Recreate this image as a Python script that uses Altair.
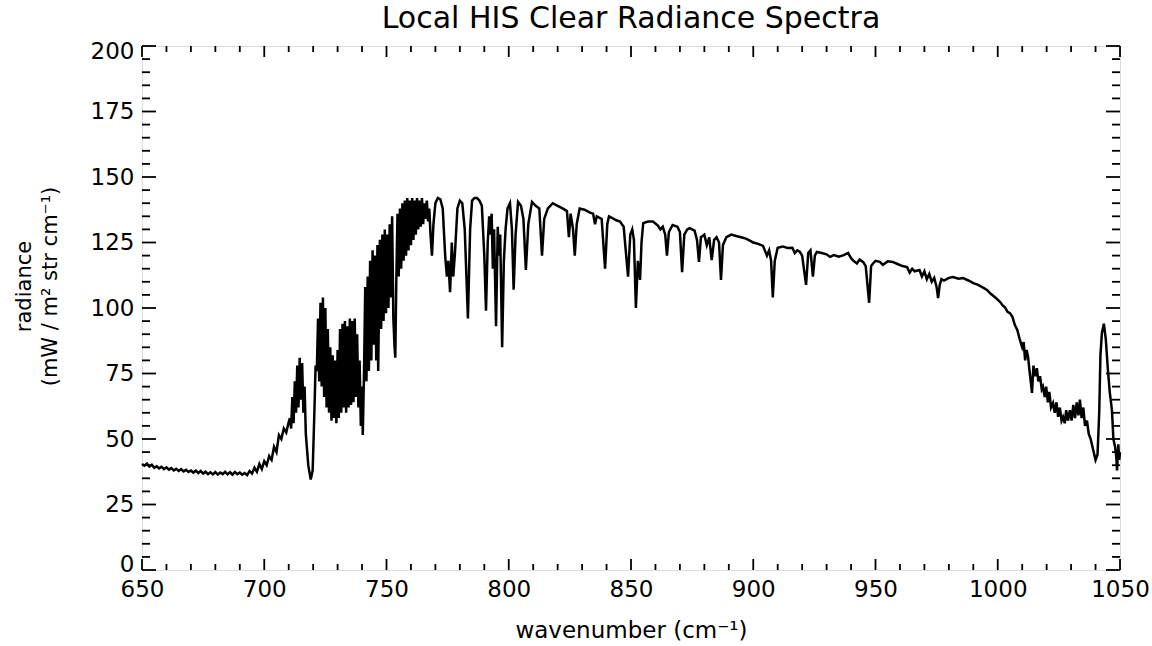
import altair as alt
import pandas as pd

# ---- spectrum (wavenumber cm-1, radiance) ----
WN = [650, 651, 652, 653, 654, 655, 656, 657, 658, 659, 660, 661, 662, 663, 664, 665, 666, 667, 668, 669,
      670, 671, 672, 673, 674, 675, 676, 677, 678, 679, 680, 681, 682, 683, 684, 685, 686, 687, 688, 689,
      690, 691, 692, 693, 694, 695, 696, 697, 698, 699, 700, 701, 702, 703, 704, 705, 706, 707, 708, 709, 710,
      710.5, 711, 711.5, 712, 712.5, 713, 713.5, 714, 714.5, 715, 715.5, 716, 716.5, 717, 718, 719, 719.8,
      720.5, 721, 721.5, 722, 722.5, 723, 723.5, 724, 724.5, 725, 725.5, 726, 726.5, 727, 727.5, 728, 728.5,
      729, 729.5, 730, 730.5, 731, 731.5, 732, 732.5, 733, 733.5, 734, 734.5, 735, 735.5, 736, 736.5, 737,
      737.5, 738, 738.5, 739, 739.5, 740, 740.3, 740.8, 741.3, 741.8, 742.3, 742.8, 743.3, 743.8, 744.3,
      744.8, 745.3, 745.8, 746.3, 746.6, 747.3, 747.8, 748.3, 748.8, 749.3, 749.8, 750.3, 750.8, 751.3,
      751.8, 752.3, 752.8, 753.3, 753.6, 754, 754.5, 755, 755.5, 756, 756.5, 757, 757.5, 758, 758.5, 759,
      759.5, 760, 760.5, 761, 761.5, 762, 762.5, 763, 763.5, 764, 764.5, 765, 765.5, 766, 766.5, 767, 767.5,
      768, 768.6, 769.2, 770, 771, 772, 773, 774, 774.7, 775.3, 776, 776.7, 777.3, 778, 779, 780, 781, 782,
      783.3, 784.2, 785, 786, 787, 788, 789, 790, 790.7, 791.4, 792, 792.5, 793, 793.5, 794, 794.8, 795.5,
      796, 796.5, 797.3, 798, 798.7, 799.5, 800.5, 801.3, 802, 802.8, 803.8, 805, 806, 807, 808, 809.5, 811,
      812.5, 813.6, 814.5, 816, 818, 820, 822, 823.8, 824.6, 825.3, 826.3, 827, 827.8, 829, 831, 833, 834.5,
      835.3, 836, 838, 839.4, 840.3, 841, 842, 844, 845.5, 847, 848.8, 849.7, 850.5, 851.2, 852, 852.8,
      853.7, 854.3, 855, 857, 859, 861, 862, 863, 864, 864.7, 865.5, 867, 869, 870, 870.9, 871.8, 873, 874,
      876, 877, 877.8, 878.6, 880, 881, 882, 883, 884, 885, 886, 886.8, 887.6, 889, 891, 893, 895, 897, 899,
      900, 902, 904, 905.6, 906.5, 907.3, 908, 908.8, 910, 912, 914, 916, 917, 918, 919, 920, 921.6, 922.5,
      923.4, 924.4, 925.2, 926, 928, 930, 931.4, 933, 935, 937, 938.8, 940, 941, 942.4, 943.5, 945, 946,
      947.4, 948.2, 949, 950, 951.8, 953, 955, 957, 959, 961, 962.9, 964, 965, 966, 968, 969, 970, 971, 972,
      973, 974, 975, 975.6, 976.3, 977, 978, 980, 981.7, 984, 985.8, 988, 990, 992, 994, 995.6, 997, 999,
      1001, 1002, 1003, 1004, 1005, 1006, 1007, 1008, 1009, 1010, 1010.6, 1011.2, 1011.8, 1012.4, 1013,
      1013.5, 1014, 1014.6, 1015.2, 1016, 1016.6, 1017.3, 1018, 1018.5, 1019.2, 1019.8, 1020.5, 1021.1,
      1021.8, 1022.6, 1023.3, 1024, 1024.7, 1025.4, 1026.1, 1026.7, 1027.4, 1028, 1028.7, 1029.5, 1030.2,
      1030.9, 1031.6, 1032.3, 1033, 1033.6, 1034.3, 1035, 1035.7, 1036.5, 1037.2, 1038, 1039, 1040, 1040.8,
      1041.5, 1042, 1042.6, 1043.4, 1044.2, 1045, 1045.8, 1046.7, 1047.3, 1048, 1048.5, 1048.8, 1049.3,
      1049.7, 1050]

RAD = [40.5, 39.8, 40.6, 39.5, 40.2, 39.0, 39.6, 38.8, 39.4, 38.5, 39.2, 38.3, 38.9, 38.0, 38.6, 37.8, 38.5, 37.6, 38.2, 37.4,
       38.0, 37.2, 37.9, 37.0, 37.8, 36.8, 37.5, 36.6, 37.3, 36.5, 37.4, 36.4, 37.2, 36.6, 37.5, 36.5, 37.3, 36.4, 37.4, 36.6,
       37.2, 36.4, 37.0, 36.2, 37.8, 36.8, 39.0, 37.5, 40.5, 38.5, 41.5, 40.0, 43.5, 42.0, 47.0, 45.0, 51.5, 50.0, 54.0, 52.5, 56.5,
       58, 54, 66, 56, 72, 60, 78, 62, 81, 65, 79, 60, 70, 52, 40, 34.5, 38,
       60, 78, 76, 96, 72, 102, 70, 104, 66, 100, 62, 92, 60, 85, 57, 82, 58,
       80, 56, 84, 58, 92, 60, 94, 62, 95, 60, 93, 62, 96, 63, 95, 64, 96,
       66, 90, 62, 80, 55, 70, 51.5, 75, 108, 72, 112, 76, 118, 80, 122,
       86, 120, 80, 124, 76, 126, 92, 128, 95, 130, 98, 128, 100, 132,
       104, 135, 96, 85, 81, 110, 136, 112, 138, 115, 140, 118, 141, 120, 142, 122,
       141, 124, 142, 126, 141, 128, 142, 130, 141, 131, 142, 132, 140, 134, 141, 133, 138,
       128, 120, 132, 140, 142, 141.5, 138, 120, 112, 118, 106, 125, 112, 121, 138, 141, 140, 130,
       96, 130, 141, 142, 142, 141, 139, 120, 99, 125, 135, 128, 136, 115, 130, 93, 131,
       120, 128, 85, 118, 130, 138, 140, 130, 107, 128, 140.5, 139, 134, 114.5, 132, 140.5, 139,
       138, 120, 134, 138, 140, 139, 138, 137, 127, 136, 130, 120, 132, 138, 137.5, 136.5, 136,
       132, 135, 134, 115, 132, 135, 134.5, 133.5, 133, 131, 112, 128, 130, 126, 100, 118,
       110.7, 125, 132.4, 133, 133, 131.5, 130, 131, 128, 120, 129, 131.7, 131, 129, 113.7, 128, 130, 130.5,
       129.5, 126, 117.6, 127, 128, 124, 127, 118.3, 126, 127, 125, 110.7, 124, 127, 128, 127.5, 127, 126.5, 125.5,
       125, 124.5, 123.7, 120, 122, 118, 104, 118, 123, 123.5, 122.9, 123, 121, 122, 121.5, 120, 108.8, 121,
       122, 112, 120, 121.4, 121, 120.5, 119.5, 120.2, 119.6, 120.2, 121, 119, 118, 117, 118.5, 117.5, 116,
       102, 116, 117, 118, 117.6, 116.5, 117.8, 117.6, 116.8, 116, 115.6, 113.5, 115, 114, 114.5, 112, 114, 111, 113,
       110, 111.5, 108, 103.8, 109, 111, 110.5, 111.5, 111.8, 111.2, 111.4, 110.5, 109.5, 108.8, 107.8, 106.9, 105.5, 104,
       102.3, 101, 100.2, 98.5, 98, 96.6, 93.5, 91.6, 88, 85, 87, 80, 84, 81.3, 76,
       72, 67.6, 78, 74, 77, 72, 74, 69, 70, 66, 70, 64, 68,
       62, 63.7, 60, 64, 58.5, 62, 57, 58.4, 56, 61, 57, 61, 57,
       63, 58, 64, 59, 65, 58, 62, 55, 57, 52, 50, 46, 42, 44,
       60, 82, 90.5, 94, 88, 77, 68, 61, 50, 47, 43, 38, 48,
       42, 45]

# ---- axis tick positions ----
X_MAJOR = [650, 700, 750, 800, 850, 900, 950, 1000, 1050]
X_MINOR = [660, 670, 680, 690, 710, 720, 730, 740, 760, 770, 780, 790, 810, 820, 830, 840,
           860, 870, 880, 890, 910, 920, 930, 940, 960, 970, 980, 990, 1010, 1020, 1030, 1040]
Y_MAJOR = [0, 25, 50, 75, 100, 125, 150, 175, 200]
Y_MINOR = [5, 10, 15, 20, 30, 35, 40, 45, 55, 60, 65, 70, 80, 85, 90, 95, 105, 110, 115, 120,
           130, 135, 140, 145, 155, 160, 165, 170, 180, 185, 190, 195]

W, H = 978, 524
FONT = "DejaVu Sans"

spec = pd.DataFrame({"wn": WN, "rad": RAD})
xmaj = pd.DataFrame({"wn": X_MAJOR})
xmin = pd.DataFrame({"wn": X_MINOR})
ymaj = pd.DataFrame({"rad": Y_MAJOR})
ymin = pd.DataFrame({"rad": Y_MINOR})

xscale = alt.Scale(domain=[650, 1050], nice=False, zero=False)
yscale = alt.Scale(domain=[0, 200], nice=False)

xaxis = alt.Axis(values=X_MAJOR, format="d", title="wavenumber (cm⁻¹)", ticks=False, domain=False,
                 grid=False, labelFontSize=23, labelPadding=8, labelColor="black", labelFont=FONT,
                 titleFontSize=23, titleFont=FONT, titleFontWeight="normal", titleColor="black",
                 titlePadding=18, labelFlush=False)
yaxis = alt.Axis(values=Y_MAJOR, format="d", title=["radiance", "(mW / m² str cm⁻¹)"], ticks=False,
                 domain=False, grid=False, labelFontSize=23, labelPadding=8, labelColor="black",
                 labelFont=FONT, titleFontSize=21, titleFont=FONT, titleFontWeight="normal",
                 titleColor="black", titlePadding=30, titleLineHeight=26, titleY=240,
                 labelFlush=True, labelFlushOffset=6)

X = alt.X("wn:Q", scale=xscale, axis=xaxis)
Y = alt.Y("rad:Q", scale=yscale, axis=yaxis)

line = alt.Chart(spec).mark_line(color="black", strokeWidth=2.5, strokeJoin="miter").encode(x=X, y=Y)

def xticks(df, y0, y1):
    return alt.Chart(df).mark_rule(color="black", strokeWidth=1.8).encode(
        x=X, y=alt.value(y0), y2=alt.value(y1))

def yticks(df, x0, x1):
    return alt.Chart(df).mark_rule(color="black", strokeWidth=1.8).encode(
        y=Y, x=alt.value(x0), x2=alt.value(x1))

layers = [
    line,
    xticks(xmaj, H, H - 11), xticks(xmin, H, H - 6),
    xticks(xmaj, 0, 11), xticks(xmin, 0, 6),
    yticks(ymaj, 0, 14), yticks(ymin, 0, 8),
    yticks(ymaj, W, W - 14), yticks(ymin, W, W - 8),
]

chart = alt.layer(*layers).properties(
    width=W, height=H,
    title=alt.TitleParams("Local HIS Clear Radiance Spectra", fontSize=30, font=FONT,
                          fontWeight="normal", color="black", offset=6, anchor="middle"),
    autosize=alt.AutoSizeParams(type="none"),
    padding={"left": 142, "top": 46, "right": 32, "bottom": 76},
).configure_view(stroke="black", strokeWidth=2).configure(background="white")

chart.save("out.html", embed_options={"renderer": "svg", "actions": False})
